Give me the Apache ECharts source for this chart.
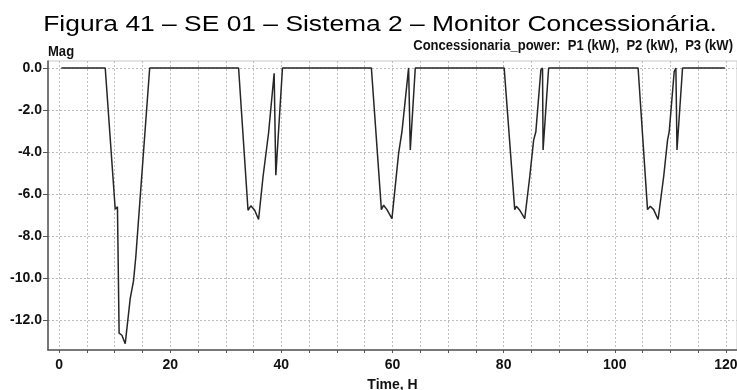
<!DOCTYPE html>
<html>
<head>
<meta charset="utf-8">
<script src="https://cdn.jsdelivr.net/npm/echarts@6/dist/echarts.min.js"></script>
<style>
html,body{margin:0;padding:0;background:#fff;}
#c{width:737px;height:390px;}
</style>
</head>
<body>
<div id="c"></div>
<script>
var timeH = [0.4, 8.3, 10.1, 10.5, 10.7, 10.8, 11.3, 11.9, 12.8, 13.4, 13.8, 14.1, 16.3,
  32.3, 34.0, 34.5, 35.2, 35.9, 36.7, 37.7, 38.0, 38.7, 39.0, 40.2,
  56.2, 58.0, 58.4, 59.0, 59.9, 61.1, 61.7, 62.0, 62.9, 63.2, 64.1,
  80.1, 82.0, 82.3, 82.9, 83.8, 84.7, 85.4, 85.8, 86.7, 87.0, 87.1, 88.1,
  104.2, 105.9, 106.4, 107.0, 107.8, 108.8, 109.5, 109.8, 110.7, 111.0, 111.2, 112.2, 119.8];
var powerKW = [0, 0, -6.71, -6.6, -6.57, -12.6, -12.7, -13.1, -10.95, -10.1, -8.98, -8.98, 0,
  0, -6.76, -6.55, -6.76, -7.2, -5.17, -3.08, -3.03, -0.25, -5.1, 0,
  0, -6.73, -6.52, -6.73, -7.16, -4.06, -3.03, -3.03, 0, -3.9, 0,
  0, -6.73, -6.57, -6.76, -7.16, -5.17, -3.43, -3.03, -0.1, 0, -3.9, 0,
  0, -6.73, -6.57, -6.73, -7.2, -5.17, -3.43, -3.03, -0.17, 0, -3.9, 0, 0];
var xLabelValues = [0, 20, 40, 60, 80, 100, 120];
var xGridValues = [0,5,10,15,20,25,30,35,40,45,50,55,60,65,70,75,80,85,90,95,100,105,110,115,120];
var yLabelValues = [0, -2, -4, -6, -8, -10, -12];
var titleText = 'Figura 41 – SE 01 – Sistema 2 – Monitor Concessionária.';
var legendText = 'Concessionaria_power:  P1 (kW),  P2 (kW),  P3 (kW)';

var FONT = '"Liberation Sans", Arial, sans-serif';
var chart = echarts.init(document.getElementById('c'), null, {renderer: 'canvas'});
var pts = timeH.map(function (t, i) { return [t, powerKW[i]]; });

chart.setOption({
  animation: false,
  backgroundColor: '#fff',
  graphic: [
    {type: 'text', x: 380, y: 36, scaleX: 1.2, scaleY: 1,
     style: {text: titleText, font: 'normal 22px "Liberation Sans", Arial, sans-serif', fill: '#000',
             textAlign: 'center', textVerticalAlign: 'bottom'}},
    {type: 'text', x: 733, y: 53, scaleX: 0.9, scaleY: 1,
     style: {text: legendText, font: 'bold 14.5px ' + FONT, fill: '#111', textAlign: 'right', textVerticalAlign: 'bottom'}},
    {type: 'text', x: 48, y: 59, scaleX: 0.9, scaleY: 1,
     style: {text: 'Mag', font: 'bold 14.5px ' + FONT, fill: '#111', textAlign: 'left', textVerticalAlign: 'bottom'}}
  ],
  grid: {left: 48, top: 61, right: 0, bottom: 40, containLabel: false, outerBoundsMode: 'none',
         show: true, borderColor: '#c8c8c8', borderWidth: 1},
  xAxis: {
    type: 'value', min: -2, max: 122,
    name: 'Time, H', nameLocation: 'middle', nameGap: 28,
    nameTextStyle: {fontFamily: FONT, fontWeight: 'bold', fontSize: 14, color: '#111'},
    axisLine: {onZero: false, lineStyle: {color: '#555', width: 1.5}},
    axisTick: {show: true, length: 3, inside: false, customValues: xGridValues, lineStyle: {color: '#555'}},
    axisLabel: {customValues: xLabelValues, fontFamily: FONT, fontWeight: 'bold', fontSize: 14, color: '#111', margin: 8},
    splitLine: {show: true, lineStyle: {color: '#bdbdbd', type: [2, 2], width: 1}}
  },
  yAxis: {
    type: 'value', min: -13.4, max: 0.33,
    axisLine: {show: true, onZero: false, lineStyle: {color: '#555', width: 1.5}},
    axisTick: {show: true, length: 5, customValues: yLabelValues, lineStyle: {color: '#555'}},
    axisLabel: {customValues: yLabelValues, fontFamily: FONT, fontWeight: 'bold', fontSize: 14, color: '#111', margin: 6,
      formatter: function (v) { return v.toFixed(1); }},
    splitLine: {show: true, lineStyle: {color: '#bdbdbd', type: [2, 2], width: 1}}
  },
  series: [{
    type: 'line', name: 'P1 (kW)', data: pts, showSymbol: false, symbol: 'none',
    lineStyle: {color: '#262626', width: 1.5}
  }]
});
</script>
</body>
</html>
